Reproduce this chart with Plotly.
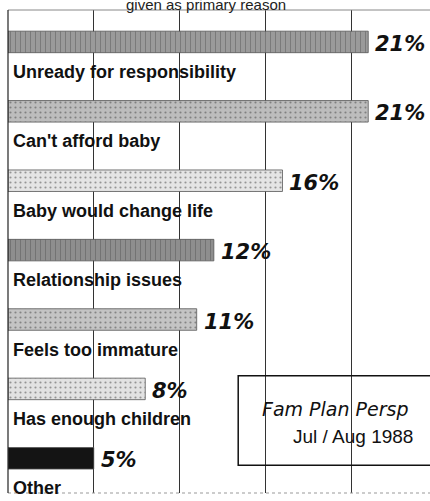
import plotly.graph_objects as go

categories = ["Unready for responsibility", "Can't afford baby", "Baby would change life",
              "Relationship issues", "Feels too immature", "Has enough children", "Other"]
values = [21, 21, 16, 12, 11, 8, 5]
value_labels = ["21%", "21%", "16%", "12%", "11%", "8%", "5%"]
bar_colors = ["#9a9a9a", "#bdbdbd", "#e4e4e4", "#8e8e8e", "#c4c4c4", "#e2e2e2", "#141414"]
bar_patterns = ["|", ".", ".", "|", ".", ".", ""]
x_ticks = [0, 5, 10, 15, 20]
source_line1 = "Fam Plan Persp"
source_line2 = "Jul / Aug 1988"
title_text = "given as primary reason"

ypos = list(range(len(categories)))

fig = go.Figure()
fig.add_trace(go.Bar(
    x=values, y=ypos, orientation="h", width=0.31,
    marker=dict(color=bar_colors, line=dict(color="#555555", width=0.8),
                pattern=dict(shape=bar_patterns, fgcolor="#777777", size=5, solidity=0.15)),
    hoverinfo="skip", showlegend=False,
))

annotations = []
for i, (c, v, t) in enumerate(zip(categories, values, value_labels)):
    annotations.append(dict(x=0, y=i, xref="x", yref="y", text="<b>" + c + "</b>",
                            showarrow=False, xanchor="left", yanchor="middle",
                            xshift=3, yshift=-30,
                            font=dict(family="Liberation Sans, Arial", size=18, color="#111")))
    annotations.append(dict(x=v, y=i, xref="x", yref="y", text="<b><i>" + t + "</i></b>",
                            showarrow=False, xanchor="left", yanchor="middle",
                            xshift=5, yshift=-2,
                            font=dict(family="DejaVu Sans, Verdana", size=21, color="#111")))

annotations.append(dict(x=0.47, y=1, xref="paper", yref="paper", text=title_text, showarrow=False,
                        xanchor="center", yanchor="middle", yshift=6,
                        font=dict(family="Liberation Sans, Arial", size=15, color="#222")))
annotations.append(dict(x=19.1, y=5.29, xref="x", yref="y", text="<i>" + source_line1 + "</i>",
                        showarrow=False, xanchor="center", yanchor="middle",
                        font=dict(family="DejaVu Sans, Verdana", size=19, color="#111")))
annotations.append(dict(x=20.1, y=5.69, xref="x", yref="y", text=source_line2,
                        showarrow=False, xanchor="center", yanchor="middle",
                        font=dict(family="Liberation Sans, Arial", size=19, color="#111")))

fig.update_layout(
    width=430, height=501,
    margin=dict(l=8, r=0, t=10, b=8),
    paper_bgcolor="white", plot_bgcolor="white",
    annotations=annotations,
    xaxis=dict(range=[0, 24.6], tickvals=x_ticks, showticklabels=False, showgrid=True,
               gridcolor="#333333", gridwidth=1, zeroline=False, showline=False, fixedrange=True),
    yaxis=dict(range=[6.5, -0.46], showticklabels=False, showgrid=False, zeroline=False,
               showline=False, fixedrange=True),
    shapes=[
        dict(type="line", xref="paper", yref="paper", x0=0, x1=1, y0=1, y1=1,
             line=dict(color="#888888", width=1)),
        dict(type="line", xref="paper", yref="paper", x0=0, x1=1, y0=0, y1=0,
             line=dict(color="#999999", width=1, dash="dot")),
        dict(type="line", xref="paper", yref="paper", x0=0, x1=0, y0=0, y1=1,
             line=dict(color="#222222", width=1.2)),
        dict(type="rect", xref="x", yref="y", x0=13.42, x1=25, y0=4.81, y1=6.1,
             line=dict(color="#111111", width=1.5), fillcolor="rgba(0,0,0,0)"),
    ],
)

fig.write_html("out.html", config={"displayModeBar": False},
               post_script="document.body.style.margin='0';")
